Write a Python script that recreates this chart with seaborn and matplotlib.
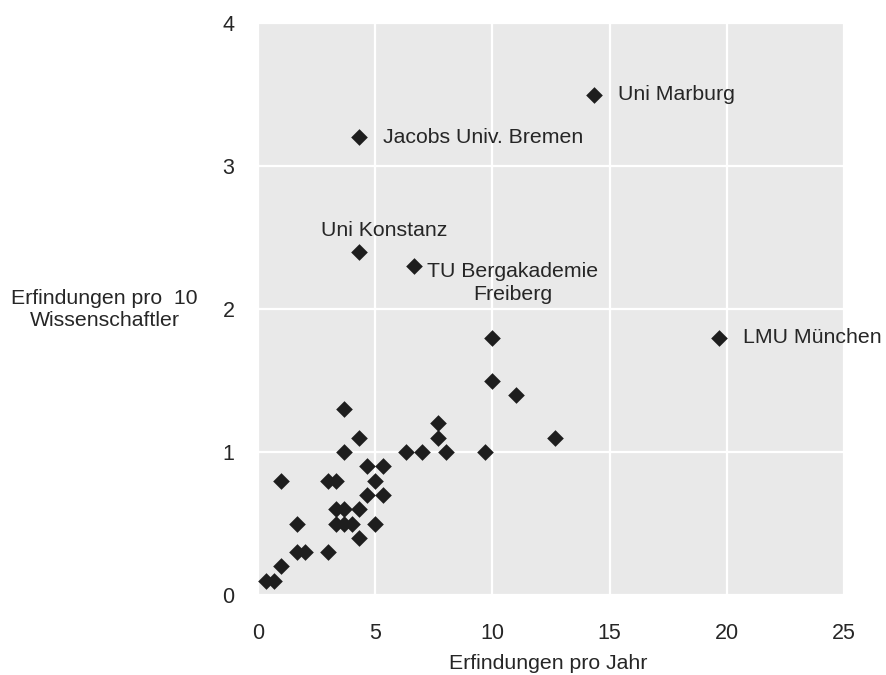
import matplotlib
matplotlib.use('Agg')
import matplotlib.pyplot as plt
import seaborn as sns
import pandas as pd

# Erfindungen pro Jahr / Erfindungen pro 10 Wissenschaftler
x_vals = [0.33, 0.67, 1.0, 1.67, 2.0, 3.0, 1.67, 3.33, 3.67, 4.0, 5.0, 4.33,
          1.0, 3.0, 3.33, 5.0, 3.33, 3.67, 4.33, 4.67, 5.33, 4.67, 5.33,
          3.67, 6.33, 7.0, 8.0, 9.67, 4.33, 7.67, 12.67, 7.67, 3.67, 11.0,
          10.0, 10.0, 19.67, 6.67, 4.33, 4.33, 14.33]
y_vals = [0.1, 0.1, 0.2, 0.3, 0.3, 0.3, 0.5, 0.5, 0.5, 0.5, 0.5, 0.4,
          0.8, 0.8, 0.8, 0.8, 0.6, 0.6, 0.6, 0.7, 0.7, 0.9, 0.9,
          1.0, 1.0, 1.0, 1.0, 1.0, 1.1, 1.1, 1.1, 1.2, 1.3, 1.4,
          1.5, 1.8, 1.8, 2.3, 2.4, 3.2, 3.5]

# labelled universities
label_names = ['Uni Marburg', 'Jacobs Univ. Bremen', 'Uni Konstanz',
               'TU Bergakademie\nFreiberg', 'LMU München']
label_x = [14.33, 4.33, 4.33, 6.67, 19.67]
label_y = [3.5, 3.2, 2.4, 2.3, 1.8]

x_ticks = [0, 5, 10, 15, 20, 25]
y_ticks = [0, 1, 2, 3, 4]

df = pd.DataFrame({'jahr': x_vals, 'wiss': y_vals})

sns.set_style("darkgrid", {'axes.facecolor': '#e9e9e9', 'grid.color': 'white'})
plt.rcParams['font.family'] = ['Liberation Sans', 'DejaVu Sans']

text_color = '#262626'

fig = plt.figure(figsize=(8.86, 6.75), dpi=100)
ax = fig.add_axes([0.2912, 0.1185, 0.6614, 0.8474])

sns.scatterplot(data=df, x='jahr', y='wiss', marker='D', s=72, color='#1e1e1e',
                linewidth=0, ax=ax)

ax.set_xlim(0, 25)
ax.set_ylim(0, 4)
ax.set_xticks(x_ticks)
ax.set_yticks(y_ticks)
ax.tick_params(axis='both', length=0, labelsize=15.5, labelcolor=text_color)
ax.tick_params(axis='x', pad=20)
ax.tick_params(axis='y', pad=17)
ax.grid(True, color='white', linewidth=1.6)
for side in ax.spines.values():
    side.set_visible(False)

ax.set_xlabel('Erfindungen pro Jahr', fontsize=15.3, color=text_color, va='center')
ax.xaxis.set_label_coords(0.496, -0.119)
ax.set_ylabel('Erfindungen pro  10\nWissenschaftler', fontsize=15.3, color=text_color,
              rotation=0, ha='center', va='center', multialignment='center')
ax.yaxis.set_label_coords(-0.262, 0.5)

# label offsets in points
offsets = [(17.5, 0), (17, 0), (18, 15), (71, -12), (17.5, 0)]
aligns = ['left', 'left', 'center', 'center', 'left']
for name, lx, ly, off, al in zip(label_names, label_x, label_y, offsets, aligns):
    ax.annotate(name, xy=(lx, ly), xytext=off, textcoords='offset points',
                ha=al, va='center', multialignment='center', fontsize=15.3,
                color=text_color, linespacing=1.3)

fig.savefig('out.png', dpi=100)
